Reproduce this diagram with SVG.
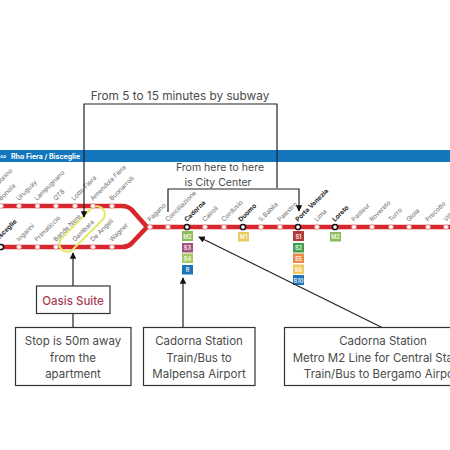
<svg xmlns="http://www.w3.org/2000/svg" width="450" height="450" viewBox="0 0 450 450">
<style>
text{font-family:"Inter","Liberation Sans",sans-serif}
.bar{fill:#1277bd}
.line{fill:none;stroke:#d8262f;stroke-width:4.6;stroke-linejoin:miter}
.st{fill:#fff;stroke:#e8a0a0;stroke-width:1}
.ic{fill:#fff;stroke:#111;stroke-width:1.5}
.l{font-size:6.4px;fill:#6b6b6b}
.b{font-size:6.4px;fill:#222;font-weight:700}
.bd{font-size:5.6px;font-weight:700;fill:#fff;fill-opacity:.85;text-anchor:middle}
.box{fill:#fff;stroke:#333;stroke-width:1.2}
.t{font-size:11.500px;fill:#4a4a4a;text-anchor:middle}
.c{fill:none;stroke:#222;stroke-width:1.2}
.hl{fill:none;stroke:#e6e86a;stroke-width:2}
</style>
<defs>
<marker id="a" viewBox="0 0 8 8" refX="7" refY="4" markerWidth="6.5" markerHeight="6.5" markerUnits="userSpaceOnUse" orient="auto"><path d="M0 0L8 4L0 8z" fill="#111"/></marker>
</defs>
<rect width="450" height="450" fill="#fff"/>
<g id="line-header">
<rect class="bar" x="0" y="150" width="450" height="12"/>
<text x="0" y="158.500" font-size="8" fill="#fff" style="font-family:'DejaVu Sans',sans-serif">⇔</text>
<text x="11" y="158.500" font-size="7" font-weight="700" fill="#fff">Rho Fiera / Bisceglie</text>
</g>
<g id="metro-line">
<path class="line" d="M0 206H122Q128 206 132 210L147 227L132 243Q128 247 122 247H0"/>
<path class="line" d="M147 227H450"/>
<g id="highlight"><rect class="hl" x="53" y="221" width="58" height="16" rx="8" transform="rotate(-45 82 229)"/></g>
<g id="stations">
<circle class="st" cx="1" cy="206" r="2.300"/><circle class="st" cx="19" cy="206" r="2.300"/><circle class="st" cx="37.500" cy="206" r="2.300"/><circle class="st" cx="56" cy="206" r="2.300"/><circle class="st" cx="75" cy="206" r="2.300"/><circle class="st" cx="93" cy="206" r="2.300"/><circle class="st" cx="112" cy="206" r="2.300"/>
<circle class="ic" cx="1" cy="247" r="2.600"/><circle class="st" cx="19" cy="247" r="2.300"/><circle class="st" cx="37.500" cy="247" r="2.300"/><circle class="st" cx="56" cy="247" r="2.300"/><circle class="st" cx="93" cy="247" r="2.300"/><circle class="st" cx="112" cy="247" r="2.300"/>
<circle class="st" cx="150" cy="227" r="2.300"/><circle class="st" cx="168" cy="227" r="2.300"/><circle class="ic" cx="187" cy="227" r="2.600"/><circle class="st" cx="205" cy="227" r="2.300"/><circle class="st" cx="224" cy="227" r="2.300"/><circle class="ic" cx="243" cy="227" r="2.600"/><circle class="st" cx="261" cy="227" r="2.300"/><circle class="st" cx="280" cy="227" r="2.300"/><circle class="ic" cx="298" cy="227" r="2.600"/><circle class="st" cx="317" cy="227" r="2.300"/><circle class="ic" cx="335" cy="227" r="2.600"/><circle class="st" cx="354" cy="227" r="2.300"/><circle class="st" cx="372" cy="227" r="2.300"/><circle class="st" cx="391" cy="227" r="2.300"/><circle class="st" cx="409" cy="227" r="2.300"/><circle class="st" cx="428" cy="227" r="2.300"/><circle class="st" cx="446" cy="227" r="2.300"/>
</g>
</g>
<g id="station-labels">
<text class="l" transform="translate(-17 201) rotate(-45)">Molino Dorino</text>
<text class="l" transform="translate(1 201) rotate(-45)">Bonola</text>
<text class="l" transform="translate(19 201) rotate(-45)">Uruguay</text>
<text class="l" transform="translate(37 201) rotate(-45)">Lampugnano</text>
<text class="l" transform="translate(56 201) rotate(-45)">QT8</text>
<text class="l" transform="translate(74 201) rotate(-45)">Lotto Fiera</text>
<text class="l" transform="translate(93 201) rotate(-45)">Amendola Fiera</text>
<text class="l" transform="translate(112 201) rotate(-45)">Buonarroti</text>
<text class="b" transform="translate(-3 242) rotate(-45)">Bisceglie</text>
<text class="l" transform="translate(19 242) rotate(-45)">Inganni</text>
<text class="l" transform="translate(37 242) rotate(-45)">Primaticcio</text>
<text class="l" transform="translate(56 242) rotate(-45)">Bande Nere</text>
<text class="l" transform="translate(75 242) rotate(-45)">Gambara</text>
<text class="l" transform="translate(93 242) rotate(-45)">De Angeli</text>
<text class="l" transform="translate(112 242) rotate(-45)">Wagner</text>
<text class="l" transform="translate(150 222) rotate(-45)">Pagano</text>
<text class="l" transform="translate(168 222) rotate(-45)">Conciliazione</text>
<text class="b" transform="translate(187 222) rotate(-45)">Cadorna</text>
<text class="l" transform="translate(205 222) rotate(-45)">Cairoli</text>
<text class="l" transform="translate(224 222) rotate(-45)">Cordusio</text>
<text class="b" transform="translate(241 222) rotate(-45)">Duomo</text>
<text class="l" transform="translate(261 222) rotate(-45)">S.Babila</text>
<text class="l" transform="translate(280 222) rotate(-45)">Palestro</text>
<text class="b" transform="translate(298 222) rotate(-45)">Porta Venezia</text>
<text class="l" transform="translate(317 222) rotate(-45)">Lima</text>
<text class="b" transform="translate(335 222) rotate(-45)">Loreto</text>
<text class="l" transform="translate(354 222) rotate(-45)">Pasteur</text>
<text class="l" transform="translate(372 222) rotate(-45)">Rovereto</text>
<text class="l" transform="translate(391 222) rotate(-45)">Turro</text>
<text class="l" transform="translate(409 222) rotate(-45)">Gioia</text>
<text class="l" transform="translate(428 222) rotate(-45)">Precotto</text>
<text class="l" transform="translate(446 222) rotate(-45)">Villa S.G.</text>
</g>
<g id="badges-cadorna">
<rect x="182" y="231" width="11" height="10" fill="#8cbb5a"/><text class="bd" x="187.500" y="238.500">M2</text>
<rect x="182" y="243" width="11" height="9.500" fill="#a0527a"/><text class="bd" x="187.500" y="250">S3</text>
<rect x="182" y="253.500" width="11" height="9.500" fill="#a8c860"/><text class="bd" x="187.500" y="260.500">S4</text>
<rect x="182" y="265" width="11" height="9.500" fill="#1c75b8"/><text class="bd" x="187.500" y="272">R</text>
</g>
<g id="badge-duomo"><rect x="238" y="232" width="11" height="9.500" fill="#e8c860"/><text class="bd" x="243.500" y="239">M1</text></g>
<g id="badges-porta-venezia">
<rect x="293" y="231" width="11" height="10" fill="#b23a3a"/><text class="bd" x="298.500" y="238.500">S1</text>
<rect x="293" y="243" width="11" height="9.500" fill="#3fa04f"/><text class="bd" x="298.500" y="250">S2</text>
<rect x="293" y="253.500" width="11" height="9.500" fill="#e88a45"/><text class="bd" x="298.500" y="260.500">S5</text>
<rect x="293" y="264.500" width="11" height="9.500" fill="#f0c860"/><text class="bd" x="298.500" y="271.500">S6</text>
<rect x="293" y="275" width="11" height="10" fill="#1c75b8"/><text class="bd" x="298.500" y="282.500">S10</text>
</g>
<g id="badge-loreto"><rect x="330" y="232" width="11" height="9.500" fill="#8cbb5a"/><text class="bd" x="335.500" y="239">M2</text></g>
<g id="connectors">
<path class="c" marker-end="url(#a)" d="M277 188V104H84V217"/>
<path class="c" marker-end="url(#a)" d="M168 212V189H299V211"/>
<path class="c" d="M73 313V327"/>
<path class="c" marker-end="url(#a)" d="M73 286V253"/>
<path class="c" marker-end="url(#a)" d="M183 328V278"/>
<path class="c" marker-end="url(#a)" d="M383 328L199 237"/>
</g>
<g id="label-subway"><text class="t" x="180" y="100" style="font-size:11.800px">From 5 to 15 minutes by subway</text></g>
<g id="label-center"><text class="t" x="220" y="171" style="font-size:10.500px">From here to here</text><text class="t" x="218" y="186" style="font-size:10.500px">is City Center</text></g>
<g id="oasis"><rect class="box" x="36.500" y="286" width="73.500" height="27.500"/><text class="t" x="73" y="305" style="fill:#a83c50;font-weight:500">Oasis Suite</text></g>
<g id="stop-box"><rect class="box" x="15.500" y="327.500" width="115.500" height="58"/><text class="t" x="73" y="345">Stop is 50m away</text><text class="t" x="73" y="361.500">from the</text><text class="t" x="73" y="378">apartment</text></g>
<g id="malpensa-box"><rect class="box" x="143.500" y="327.500" width="111.500" height="58"/><text class="t" x="199" y="345">Cadorna Station</text><text class="t" x="199" y="361.500">Train/Bus to</text><text class="t" x="199" y="378">Malpensa Airport</text></g>
<g id="bergamo-box"><rect class="box" x="284.500" y="327.500" width="180" height="58"/><text class="t" x="383" y="345">Cadorna Station</text><text class="t" x="383" y="361.500">Metro M2 Line for Central Station</text><text class="t" x="383" y="378">Train/Bus to Bergamo Airport</text></g>
</svg>
